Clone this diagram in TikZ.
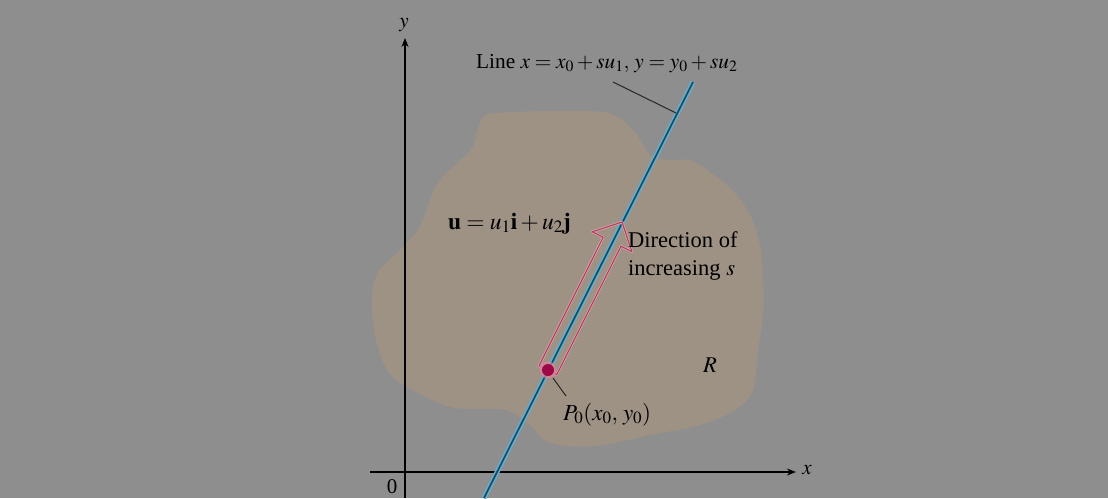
\documentclass[tikz,border=0pt]{standalone}
\usepackage{mathptmx}
\usepackage{fontspec}
\setmainfont{Liberation Serif}
\usetikzlibrary{arrows.meta}
\definecolor{bgc}{RGB}{142,142,142}
\definecolor{blobc}{RGB}{158,146,133}
\definecolor{linehalo}{RGB}{105,170,205}
\definecolor{linecore}{RGB}{15,80,100}
\definecolor{arrhalo}{RGB}{215,160,170}
\definecolor{arrcore}{RGB}{175,60,90}
\definecolor{dotc}{RGB}{155,10,70}
\definecolor{dothalo}{RGB}{225,130,160}
\tikzset{
  axis/.style={line width=1.3pt, -{Stealth[length=9pt,width=7pt]}},
  lbl/.style={inner sep=0pt, font=\fontsize{22.5}{28}\selectfont},
  leader/.style={line width=1pt, black!85},
}
\begin{document}
\begin{tikzpicture}[x=1pt,y=-1pt]
\fill[bgc] (0,0) rectangle (1108,498);
\useasboundingbox (0,0) rectangle (1108,498);
% region R
\fill[blobc] plot[smooth cycle, tension=0.55] coordinates {
  (490,114) (550,111) (608,113) (634,131) (650,155) (670,160) (690,160)
  (710,172) (732,190) (750,215) (760,245) (763,280) (763,315) (758,350)
  (753,390) (735,410) (700,425) (650,435) (595,446) (550,443) (530,425)
  (505,410) (455,408) (420,394) (390,374) (376,340) (372,300) (378,272)
  (400,250) (420,226) (436,186) (457,163) (472,148) (479,126)};
% axes
\coordinate (yb) at (405,498);
\coordinate (yt) at (405,38);
\coordinate (xl) at (370,472);
\coordinate (xr) at (796,472);
\draw[axis] (yb) -- (yt);
\draw[axis] (xl) -- (xr);
\node[lbl, font=\fontsize{21}{24}\selectfont] (ylab) at (404,25) {$y$};
\node[lbl, font=\fontsize{21}{24}\selectfont] (xlab) at (807,470) {$x$};
\node[lbl, font=\fontsize{21}{24}\selectfont] (zero) at (392,487) {0};
% the line
\coordinate (L1) at (484,498);
\coordinate (L2) at (693,82);
\draw[linehalo, line width=5pt] (L1) -- (L2);
\draw[linecore, line width=1.7pt] (L1) -- (L2);
% hollow arrow u
\coordinate (a1) at (539.1,365.5);
\coordinate (a2) at (603.2,237.2);
\coordinate (a3) at (592.4,231.8);
\coordinate (a4) at (622,222);
\coordinate (a5) at (631.8,251.6);
\coordinate (a6) at (621.0,246.2);
\coordinate (a7) at (556.9,374.5);
\draw[arrhalo, line width=2.6pt, line join=round] (a1) -- (a2) -- (a3) -- (a4) -- (a5) -- (a6) -- (a7) -- cycle;
\draw[arrcore, line width=1pt, line join=round] (a1) -- (a2) -- (a3) -- (a4) -- (a5) -- (a6) -- (a7) -- cycle;
% point P0
\node[circle, fill=dothalo, minimum size=17pt, inner sep=0pt, opacity=0.7] (P0h) at (548,370) {};
\node[circle, fill=dotc, minimum size=12pt, inner sep=0pt] (P0) at (548,370) {};
% labels
\node[lbl, font=\fontsize{21.3}{24}\selectfont, anchor=base west] (linelab) at (476,68) {Line $x=x_0+su_1,\,y=y_0+su_2$};
\coordinate (la) at (613,82);
\coordinate (lb) at (676,113);
\draw[leader] (la) -- (lb);
\node[lbl, font=\fontsize{23.5}{28}\selectfont, anchor=base west] (ulab) at (448,229) {$\mathbf{u}=u_1\mathbf{i}+u_2\mathbf{j}$};
\node[lbl, anchor=base west, align=left] (dir) at (628,275) {Direction of\\increasing $s$};
\node[lbl, anchor=base] (R) at (710,372) {$R$};
\node[lbl, font=\fontsize{23}{28}\selectfont, anchor=base west] (P0lab) at (563,420) {$P_0(x_0,\,y_0)$};
\coordinate (pa) at (553,378);
\coordinate (pb) at (566,396);
\draw[leader] (pa) -- (pb);
\end{tikzpicture}
\end{document}
